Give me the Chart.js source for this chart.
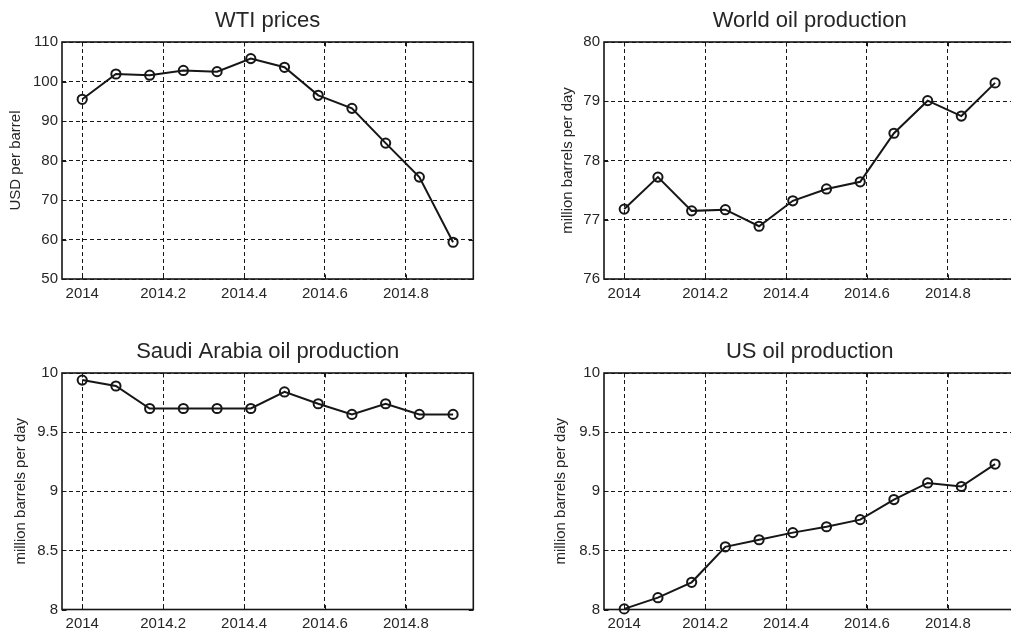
<!DOCTYPE html>
<html><head><meta charset="utf-8">
<script src="https://cdn.jsdelivr.net/npm/chart.js@4"></script>
<style>
html,body{margin:0;padding:0;background:#fff;overflow:hidden;width:1011px;height:633px;position:relative;}
canvas{position:absolute;display:block;}
</style></head><body>
<canvas id="c0"></canvas>
<canvas id="c1"></canvas>
<canvas id="c2"></canvas>
<canvas id="c3"></canvas>
<script>
// ---- data (monthly, 2014) ----
const monthX = [2014.0000, 2014.0833, 2014.1667, 2014.2500, 2014.3333, 2014.4167,
                2014.5000, 2014.5833, 2014.6667, 2014.7500, 2014.8333, 2014.9167];
const wtiPrices       = [95.5, 101.9, 101.6, 102.8, 102.5, 105.8, 103.6, 96.5, 93.2, 84.4, 75.8, 59.3];
const worldProduction = [77.18, 77.72, 77.15, 77.17, 76.89, 77.32, 77.52, 77.64, 78.46, 79.01, 78.75, 79.31];
const saudiProduction = [9.94, 9.89, 9.70, 9.70, 9.70, 9.70, 9.84, 9.74, 9.65, 9.74, 9.65, 9.65];
const usProduction    = [8.005, 8.10, 8.23, 8.53, 8.59, 8.65, 8.70, 8.76, 8.93, 9.07, 9.04, 9.23];

const xTicks      = [2014, 2014.2, 2014.4, 2014.6, 2014.8];
const xTickLabels = ['2014', '2014.2', '2014.4', '2014.6', '2014.8'];
const xRange      = [2013.95, 2014.9667];

const wtiTicks        = [50, 60, 70, 80, 90, 100, 110];
const wtiTickLabels   = ['50', '60', '70', '80', '90', '100', '110'];
const worldTicks      = [76, 77, 78, 79, 80];
const worldTickLabels = ['76', '77', '78', '79', '80'];
const mbdTicks        = [8, 8.5, 9, 9.5, 10];
const mbdTickLabels   = ['8', '8.5', '9', '9.5', '10'];

const titles  = ['WTI prices', 'World oil production', 'Saudi Arabia oil production', 'US oil production'];
const yTitles = ['USD per barrel', 'million barrels per day', 'million barrels per day', 'million barrels per day'];

// ---- style / layout ----
const INK = '#161616';
const TXT = '#262626';
const FONT = '"Liberation Sans", Arial, Helvetica, sans-serif';
Chart.defaults.font.family = FONT;
Chart.defaults.color = TXT;

const frame = {
  id: 'frame',
  beforeDatasetsDraw(chart) {
    const {ctx, chartArea: a, scales} = chart;
    ctx.save();
    ctx.strokeStyle = INK;
    ctx.setLineDash([]);
    ctx.lineWidth = 1;
    const L = 4.5;
    ctx.beginPath();
    scales.x.ticks.forEach(t => {
      const px = Math.round(scales.x.getPixelForValue(t.value)) + 0.5;
      ctx.moveTo(px, a.bottom); ctx.lineTo(px, a.bottom - L);
      ctx.moveTo(px, a.top); ctx.lineTo(px, a.top + L);
    });
    scales.y.ticks.forEach(t => {
      const py = Math.round(scales.y.getPixelForValue(t.value)) + 0.5;
      ctx.moveTo(a.left, py); ctx.lineTo(a.left + L, py);
      ctx.moveTo(a.right, py); ctx.lineTo(a.right - L, py);
    });
    ctx.stroke();
    ctx.lineWidth = 1.6;
    ctx.strokeRect(a.left, a.top, a.right - a.left, a.bottom - a.top);
    ctx.restore();
  }
};

function makeChart(id, box, series, yTicks, yLabels, title, yTitle) {
  const cv = document.getElementById(id);
  cv.width = box.w; cv.height = box.h;
  cv.style.left = box.left + 'px'; cv.style.top = box.top + 'px';
  cv.style.width = box.w + 'px'; cv.style.height = box.h + 'px';
  return new Chart(cv, {
    type: 'line',
    data: {
      datasets: [{
        data: monthX.map((x, i) => ({x: x, y: series[i]})),
        borderColor: INK,
        borderWidth: 2,
        pointRadius: 4.6,
        pointBorderWidth: 2,
        pointBorderColor: INK,
        pointBackgroundColor: 'rgba(255,255,255,0)',
        tension: 0,
        clip: false
      }]
    },
    options: {
      responsive: false,
      devicePixelRatio: 1,
      animation: false,
      events: [],
      layout: {autoPadding: false, padding: {left: 0, right: box.padR, top: 0, bottom: 0}},
      plugins: {
        legend: {display: false},
        tooltip: {enabled: false},
        title: {
          display: true, text: title, color: TXT, fullSize: false,
          font: {size: 22, weight: 'normal', family: FONT},
          padding: {top: 8, bottom: 7.6}
        }
      },
      scales: {
        x: {
          type: 'linear', min: xRange[0], max: xRange[1],
          afterBuildTicks: s => { s.ticks = xTicks.map(v => ({value: v})); },
          afterFit: s => { s.height = box.xh; },
          ticks: {
            color: TXT, font: {size: 15}, padding: 5.5, maxRotation: 0, autoSkip: false,
            callback: (v) => xTickLabels[xTicks.indexOf(v)]
          },
          grid: {color: INK, lineWidth: 1, drawTicks: false},
          border: {display: false, dash: [4, 3]}
        },
        y: {
          type: 'linear', min: yTicks[0], max: yTicks[yTicks.length - 1],
          afterBuildTicks: s => { s.ticks = yTicks.map(v => ({value: v})); },
          afterFit: s => { s.width = box.yw; },
          ticks: {
            color: TXT, font: {size: 15}, padding: 4, autoSkip: false,
            callback: (v) => yLabels[yTicks.indexOf(v)]
          },
          grid: {color: INK, lineWidth: 1, drawTicks: false},
          border: {display: false, dash: [4, 3]},
          title: {display: true, text: yTitle, color: TXT, font: {size: 15}, padding: {top: box.ytp, bottom: 0}}
        }
      }
    },
    plugins: [frame]
  });
}

makeChart('c0', {left: 0,   top: 0,   w: 505, h: 316, padR: 31.7, yw: 62, xh: 37,   ytp: 7.3},
          wtiPrices, wtiTicks, wtiTickLabels, titles[0], yTitles[0]);
makeChart('c1', {left: 551, top: 0,   w: 465, h: 316, padR: 0.7,  yw: 53, xh: 37,   ytp: 7.8},
          worldProduction, worldTicks, worldTickLabels, titles[1], yTitles[1]);
makeChart('c2', {left: 0,   top: 331, w: 505, h: 302, padR: 31.7, yw: 62, xh: 23.5, ytp: 11.5},
          saudiProduction, mbdTicks, mbdTickLabels, titles[2], yTitles[2]);
makeChart('c3', {left: 551, top: 331, w: 465, h: 302, padR: 0.7,  yw: 53, xh: 23.5, ytp: 0.8},
          usProduction, mbdTicks, mbdTickLabels, titles[3], yTitles[3]);
</script>
</body></html>
